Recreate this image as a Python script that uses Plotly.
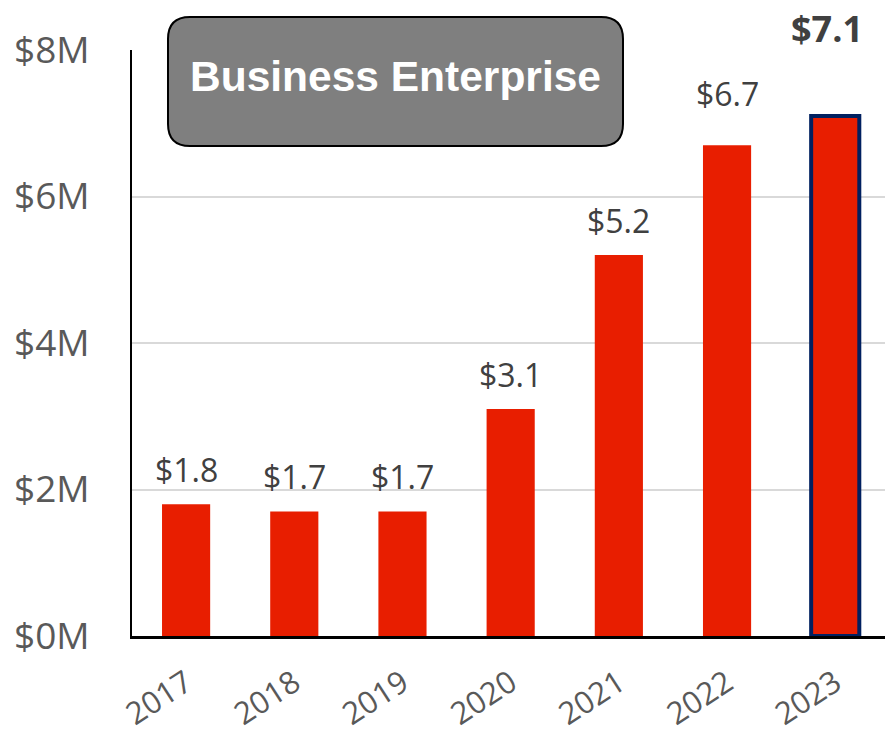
import plotly.graph_objects as go

# Revenue by year, in $M
years = ["2017", "2018", "2019", "2020", "2021", "2022", "2023"]
revenue_m = [1.8, 1.7, 1.7, 3.1, 5.2, 6.7, 7.1]
y_tick_values = [0, 2, 4, 6, 8]
y_tick_labels = ["$0M", "$2M", "$4M", "$6M", "$8M"]
title_text = "Business Enterprise"

W, H = 885, 736
# plot area in pixels
PL, PR, PT, PB = 132, 885, 50, 636


def px_x(p):
    return (p - PL) / (PR - PL)


def px_y(p):
    return (PB - p) / (PB - PT)


BAR_RED = "#E81E00"
NAVY = "#002060"
LABEL_GRAY = "#404040"
TICK_GRAY = "#595959"
FONT = "Open Sans"

n = len(years)
last = n - 1
line_colors = ["rgba(0,0,0,0)"] * last + [NAVY]
line_widths = [0] * last + [4]

fig = go.Figure(
    go.Bar(
        x=list(range(n)),
        y=revenue_m,
        width=0.445,
        marker=dict(color=BAR_RED, line=dict(color=line_colors, width=line_widths)),
        hoverinfo="skip",
    )
)

# value labels above the bars (the latest year is shown in bold at the top)
extra_lift = {5: 17}
annotations = []
for i, v in enumerate(revenue_m):
    label = f"${v:.1f}"
    if i == last:
        annotations.append(dict(
            x=i, xref="x", y=px_y(28), yref="paper",
            text=f"<b>{label}</b>", showarrow=False, xshift=-8,
            yanchor="middle", xanchor="center",
            font=dict(family=FONT, size=36, color=LABEL_GRAY),
        ))
    else:
        annotations.append(dict(
            x=i, xref="x", y=v, yref="y",
            text=label, showarrow=False,
            yanchor="bottom", xanchor="center",
            yshift=11 + extra_lift.get(i, 0),
            font=dict(family=FONT, size=32, color=LABEL_GRAY),
        ))

# title badge
bx0, bx1, by0, by1, r = 168, 623, 17, 146, 22
rx = r / (PR - PL)
ry = r / (PB - PT)
X0, X1, Y0, Y1 = px_x(bx0), px_x(bx1), px_y(by1), px_y(by0)
path = (
    f"M {X0 + rx} {Y1} L {X1 - rx} {Y1} Q {X1} {Y1} {X1} {Y1 - ry} "
    f"L {X1} {Y0 + ry} Q {X1} {Y0} {X1 - rx} {Y0} "
    f"L {X0 + rx} {Y0} Q {X0} {Y0} {X0} {Y0 + ry} "
    f"L {X0} {Y1 - ry} Q {X0} {Y1} {X0 + rx} {Y1} Z"
)
shapes = [dict(
    type="path", xref="paper", yref="paper", path=path,
    fillcolor="#7F7F7F", line=dict(color="#000000", width=2), layer="above",
)]
annotations.append(dict(
    x=px_x((bx0 + bx1) / 2), xref="paper", y=px_y(76), yref="paper",
    text=f"<b>{title_text}</b>", showarrow=False,
    xanchor="center", yanchor="middle",
    font=dict(family="Liberation Sans, Arial", size=42.5, color="#FFFFFF"),
))

fig.update_layout(
    width=W, height=H,
    margin=dict(l=PL, r=W - PR, t=PT, b=H - PB, autoexpand=False),
    paper_bgcolor="white", plot_bgcolor="white",
    showlegend=False,
    shapes=shapes,
    annotations=annotations,
    xaxis=dict(
        range=[-0.5, 6.46],
        tickvals=list(range(n)), ticktext=years,
        tickangle=-33,
        tickfont=dict(family=FONT, size=31, color=TICK_GRAY),
        showline=True, linecolor="#000000", linewidth=2.5,
        showgrid=False, zeroline=False, ticks="",
        ticklabelstandoff=14,
    ),
    yaxis=dict(
        range=[0, 8],
        tickvals=y_tick_values, ticktext=y_tick_labels,
        tickfont=dict(family=FONT, size=37, color=TICK_GRAY),
        showline=True, linecolor="#000000", linewidth=2,
        showgrid=True, gridcolor="#D9D9D9", gridwidth=1.5,
        zeroline=False, ticks="",
        ticklabelstandoff=33,
    ),
)

fig.write_html("out.html")
